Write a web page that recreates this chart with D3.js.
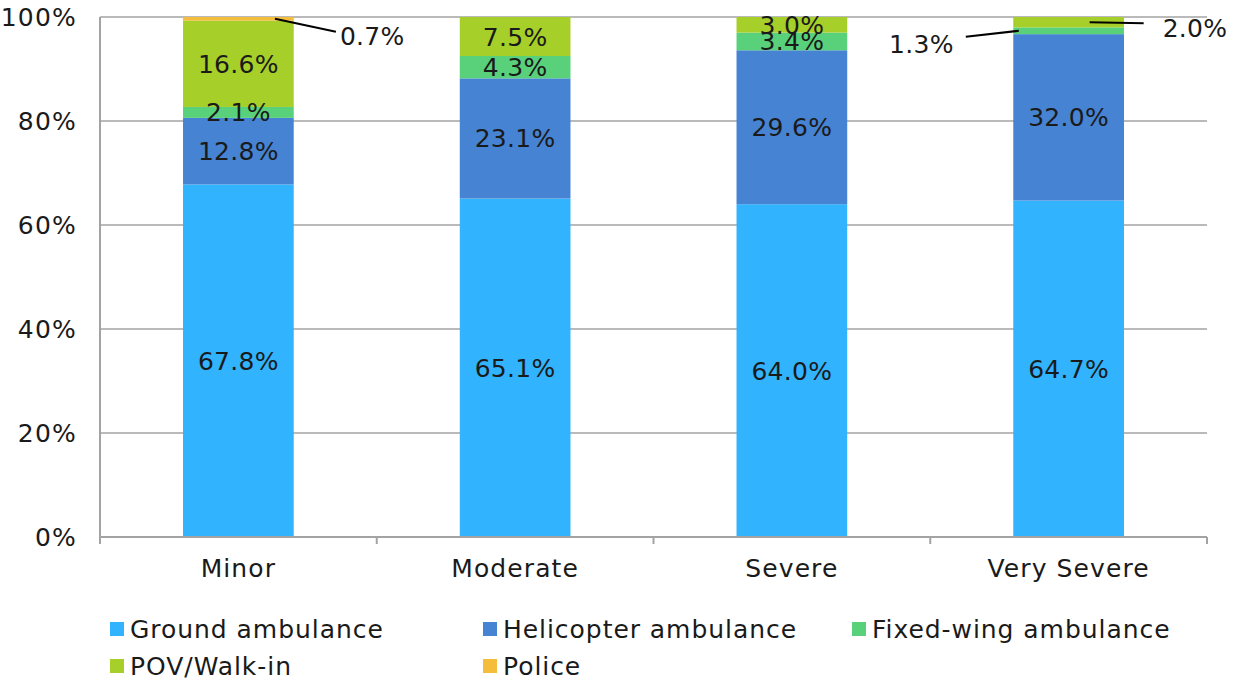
<!DOCTYPE html>
<html>
<head>
<meta charset="utf-8">
<script src="https://cdn.jsdelivr.net/npm/d3@7"></script>
<style>
  html, body { margin: 0; padding: 0; background: #fff; }
  svg text { font-family: "DejaVu Sans", sans-serif; fill: #1a1a1a; }
</style>
</head>
<body>
<svg id="chart" width="1237" height="681"></svg>
<script>
// Severity categories along the x axis
const categories = ["Minor", "Moderate", "Severe", "Very Severe"];

// Transport mode series (percent of patients in each severity group)
const seriesNames = ["Ground ambulance", "Helicopter ambulance", "Fixed-wing ambulance", "POV/Walk-in", "Police"];
const groundAmbulance     = [67.8, 65.1, 64.0, 64.7];
const helicopterAmbulance = [12.8, 23.1, 29.6, 32.0];
const fixedWingAmbulance  = [2.1, 4.3, 3.4, 1.3];
const povWalkIn           = [16.6, 7.5, 3.0, 2.0];
const police              = [0.7, 0, 0, 0];

const yTicks = [0, 20, 40, 60, 80, 100];
const colors = ["#31b3fd", "#4683d3", "#59d17b", "#a6cf29", "#f4bd3c"];

const seriesValues = [groundAmbulance, helicopterAmbulance, fixedWingAmbulance, povWalkIn, police];
const rows = categories.map((c, i) => {
  const r = { category: c };
  seriesNames.forEach((s, j) => { r[s] = seriesValues[j][i]; });
  return r;
});

const svg = d3.select("#chart");
const margin = { left: 100, right: 30, top: 17, bottom: 144 };
const W = 1237, H = 681;

const x = d3.scaleBand()
  .domain(categories)
  .range([margin.left, W - margin.right])
  .paddingInner(0.6)
  .paddingOuter(0.3);

const y = d3.scaleLinear()
  .domain([0, 100])
  .range([H - margin.bottom, margin.top]);

const axisColor = "#a3a3a3";
const fontSize = 25;

// Horizontal gridlines
svg.append("g")
  .selectAll("line")
  .data(yTicks.filter(t => t > 0))
  .join("line")
  .attr("x1", margin.left).attr("x2", W - margin.right)
  .attr("y1", d => y(d)).attr("y2", d => y(d))
  .attr("stroke", axisColor).attr("stroke-width", 1.5);

// Y tick labels
svg.append("g")
  .selectAll("text")
  .data(yTicks)
  .join("text")
  .attr("x", margin.left - 23)
  .attr("y", d => y(d))
  .attr("dy", "0.36em")
  .attr("text-anchor", "end")
  .style("font-size", fontSize + "px")
  .style("letter-spacing", "1.2px")
  .text(d => d + "%");

// Stacked bars
const stack = d3.stack().keys(seriesNames);
const stacked = stack(rows);

const layers = svg.append("g")
  .selectAll("g")
  .data(stacked)
  .join("g")
  .attr("fill", (d, i) => colors[i]);

layers.selectAll("rect")
  .data(d => d.map(p => ({ p, key: d.key })))
  .join("rect")
  .attr("x", d => x(d.p.data.category))
  .attr("width", x.bandwidth())
  .attr("y", d => y(d.p[1]))
  .attr("height", d => y(d.p[0]) - y(d.p[1]));

// Axes lines and x ticks
const axisG = svg.append("g");
axisG.append("line")
  .attr("x1", margin.left).attr("x2", W - margin.right)
  .attr("y1", y(0)).attr("y2", y(0))
  .attr("stroke", axisColor).attr("stroke-width", 2);
axisG.append("line")
  .attr("x1", margin.left).attr("x2", margin.left)
  .attr("y1", y(100)).attr("y2", y(0))
  .attr("stroke", axisColor).attr("stroke-width", 2);

const boundaries = d3.range(categories.length + 1).map(i => margin.left + i * (W - margin.right - margin.left) / categories.length);
axisG.selectAll("line.tick")
  .data(boundaries)
  .join("line")
  .attr("class", "tick")
  .attr("x1", d => d).attr("x2", d => d)
  .attr("y1", y(0)).attr("y2", y(0) + 7)
  .attr("stroke", axisColor).attr("stroke-width", 2);

axisG.selectAll("text.cat")
  .data(categories)
  .join("text")
  .attr("class", "cat")
  .attr("x", d => x(d) + x.bandwidth() / 2)
  .attr("y", y(0) + 40)
  .attr("text-anchor", "middle")
  .style("font-size", fontSize + "px")
  .style("letter-spacing", "1.1px")
  .text(d => d);

// Value labels: inside segments, with leader lines for thin segments
const callouts = {
  "Police|Minor":             { fx: 0.83, dx: 61,  dy: 13, lx: 4,   ly: 4, anchor: "start" },
  "POV/Walk-in|Very Severe":  { fx: 0.69, dx: 54,  dy: 1,  lx: 19,  ly: 5, anchor: "start" },
  "Fixed-wing ambulance|Very Severe": { fx: 0.05, dx: -53, dy: 6, lx: -12, ly: 7, anchor: "end" }
};

const labelG = svg.append("g");
stacked.forEach(layer => {
  layer.forEach(p => {
    const v = p[1] - p[0];
    if (v <= 0) return;
    const cat = p.data.category;
    const txt = d3.format(".1f")(v) + "%";
    const bx = x(cat), bw = x.bandwidth();
    const ymid = (y(p[0]) + y(p[1])) / 2;
    const c = callouts[layer.key + "|" + cat];
    if (c) {
      const sx = bx + c.fx * bw, ex = sx + c.dx, ey = ymid + c.dy;
      labelG.append("line")
        .attr("x1", sx).attr("y1", ymid)
        .attr("x2", ex).attr("y2", ey)
        .attr("stroke", "#000").attr("stroke-width", 2);
      labelG.append("text")
        .attr("x", ex + c.lx).attr("y", ey + c.ly)
        .attr("dy", "0.36em")
        .attr("text-anchor", c.anchor)
        .style("font-size", fontSize + "px")
        .style("letter-spacing", "0.3px")
        .text(txt);
    } else {
      labelG.append("text")
        .attr("x", bx + bw / 2).attr("y", ymid)
        .attr("dy", "0.36em")
        .attr("text-anchor", "middle")
        .style("font-size", fontSize + "px")
        .style("letter-spacing", "0.3px")
        .text(txt);
    }
  });
});

// Legend in two rows of three columns
const legendCols = [110, 483, 852];
const legendRows = [629, 666];
const legend = svg.append("g");
seriesNames.forEach((s, i) => {
  const cx = legendCols[i % 3], cy = legendRows[Math.floor(i / 3)];
  legend.append("rect")
    .attr("x", cx).attr("y", cy - 7)
    .attr("width", 14).attr("height", 14)
    .attr("fill", colors[i]);
  legend.append("text")
    .attr("x", cx + 20).attr("y", cy)
    .attr("dy", "0.36em")
    .style("font-size", fontSize + "px")
    .style("letter-spacing", "0.95px")
    .text(s);
});
</script>
</body>
</html>
